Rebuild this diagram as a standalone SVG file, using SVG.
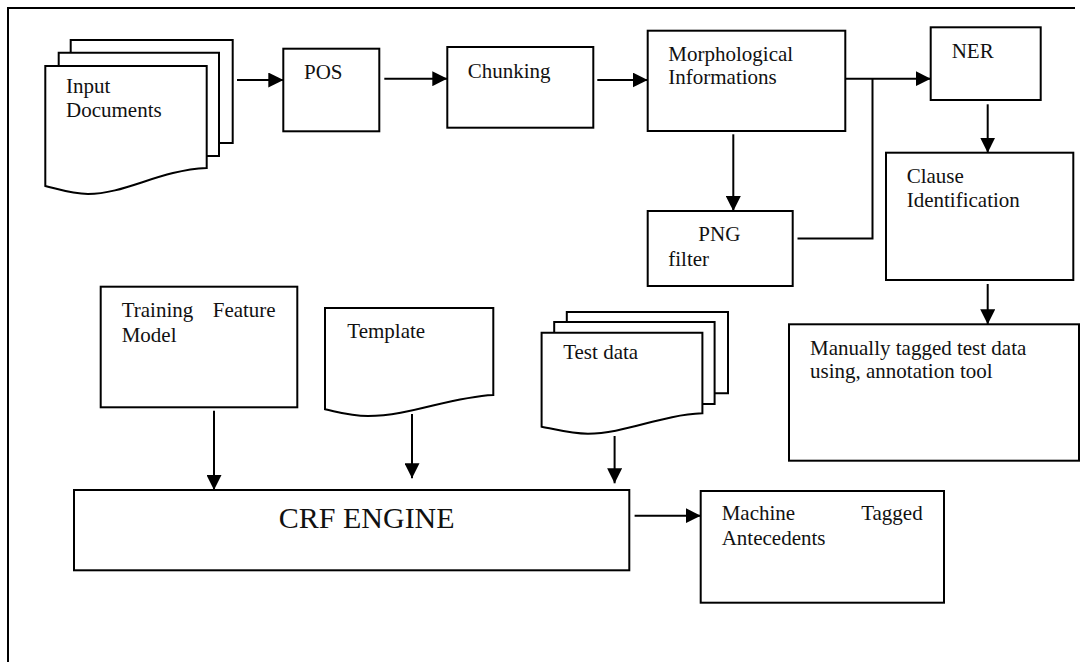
<svg xmlns="http://www.w3.org/2000/svg" width="1084" height="662" viewBox="0 0 1084 662">
  <style>
    .box { fill: #fff; stroke: #000; stroke-width: 2; }
    .edge { fill: none; stroke: #000; stroke-width: 2; }
    .lbl { font-family: "Liberation Serif", "Times New Roman", serif; font-size: 21px; fill: #111; }
    .big { font-family: "Liberation Serif", "Times New Roman", serif; font-size: 30px; fill: #111; }
  </style>
  <defs>
    <marker id="arrow" markerUnits="userSpaceOnUse" markerWidth="15" markerHeight="15" refX="15" refY="7.5" orient="auto">
      <path d="M0,0 L15,7.5 L0,15 z" fill="#000"/>
    </marker>
  </defs>

  <rect width="1084" height="662" fill="#fff"/>

  <!-- frame: top and left edges only -->
  <path class="edge" d="M8,662 L8,8 L1075,8"/>

  <!-- stacked document: input -->
  <g id="input-documents">
    <path class="box" d="M70.7,52.7 L70.7,40 L232.7,40 L232.7,143 L219,143"/>
    <path class="box" d="M58.7,66 L58.7,52.7 L219,52.7 L219,156 L206.7,156"/>
    <path class="box" d="M45.3,66 L206.7,66 L206.7,168 C160,170 125,194 88,194 C72,194 58,189 45.3,186 Z"/>
    <text class="lbl" x="66" y="93">Input</text>
    <text class="lbl" x="66" y="117">Documents</text>
  </g>

  <g id="pos">
    <rect class="box" x="283.3" y="48.7" width="96" height="82.6"/>
    <text class="lbl" x="304" y="79">POS</text>
  </g>

  <g id="chunking">
    <rect class="box" x="447.3" y="47" width="146" height="80.7"/>
    <text class="lbl" x="467.7" y="78">Chunking</text>
  </g>

  <g id="morphological">
    <rect class="box" x="647.7" y="30.7" width="197.6" height="100.3"/>
    <text class="lbl" x="668.3" y="61">Morphological</text>
    <text class="lbl" x="668.3" y="84.3">Informations</text>
  </g>

  <g id="ner">
    <rect class="box" x="930.7" y="27.3" width="110" height="72.7"/>
    <text class="lbl" x="951.7" y="58.3">NER</text>
  </g>

  <g id="png-filter">
    <rect class="box" x="647.7" y="211" width="145" height="75"/>
    <text class="lbl" x="698.3" y="241">PNG</text>
    <text class="lbl" x="668.3" y="266">filter</text>
  </g>

  <g id="clause">
    <rect class="box" x="886" y="152.7" width="187.3" height="127.3"/>
    <text class="lbl" x="906.7" y="182.7">Clause</text>
    <text class="lbl" x="906.7" y="206.7">Identification</text>
  </g>

  <g id="training">
    <rect class="box" x="100.7" y="286.7" width="196.6" height="120.6"/>
    <text class="lbl" x="121.7" y="316.7">Training</text>
    <text class="lbl" x="275.7" y="316.7" text-anchor="end">Feature</text>
    <text class="lbl" x="121.7" y="341.7">Model</text>
  </g>

  <g id="template">
    <path class="box" d="M325,308 L493.3,308 L493.3,395 C450,397 410,416 368,416 C350,416 338,412 325,409.3 Z"/>
    <text class="lbl" x="347.3" y="338.3">Template</text>
  </g>

  <g id="test-data">
    <path class="box" d="M566.8,322 L566.8,312 L728,312 L728,393.3 L714.6,393.3"/>
    <path class="box" d="M554.2,332.7 L554.2,322 L714.6,322 L714.6,404 L702.4,404"/>
    <path class="box" d="M541.6,332.7 L702.4,332.7 L702.4,413.3 C660,415 625,433.7 588,433.7 C570,433.7 555,429 541.6,426.7 Z"/>
    <text class="lbl" x="563.2" y="359.3">Test data</text>
  </g>

  <g id="manual-tagging">
    <rect class="box" x="789" y="324.3" width="290" height="136.4"/>
    <text class="lbl" x="810" y="355">Manually tagged test data</text>
    <text class="lbl" x="810" y="378.3">using, annotation tool</text>
  </g>

  <g id="crf-engine">
    <rect class="box" x="74" y="490" width="555.3" height="80.3"/>
    <text class="big" x="366.7" y="528.3" text-anchor="middle">CRF ENGINE</text>
  </g>

  <g id="machine-tagged">
    <rect class="box" x="700.7" y="491" width="243.3" height="111.7"/>
    <text class="lbl" x="721.7" y="520">Machine</text>
    <text class="lbl" x="922.7" y="520" text-anchor="end">Tagged</text>
    <text class="lbl" x="721.7" y="545">Antecedents</text>
  </g>

  <g id="connectors">
    <path class="edge" marker-end="url(#arrow)" d="M237,80 L283.3,80"/>
    <path class="edge" marker-end="url(#arrow)" d="M384.3,78.7 L447.3,78.7"/>
    <path class="edge" marker-end="url(#arrow)" d="M597.3,80 L647.7,80"/>
    <path class="edge" marker-end="url(#arrow)" d="M845.3,78.7 L930.7,78.7"/>
    <path class="edge" d="M797.5,238.5 L872.5,238.5 L872.5,78.7"/>
    <path class="edge" marker-end="url(#arrow)" d="M733.3,134.3 L733.3,211"/>
    <path class="edge" marker-end="url(#arrow)" d="M987.7,104.3 L987.7,152.7"/>
    <path class="edge" marker-end="url(#arrow)" d="M987.7,284 L987.7,324.3"/>
    <path class="edge" marker-end="url(#arrow)" d="M214,410.7 L214,490"/>
    <path class="edge" marker-end="url(#arrow)" d="M412,414 L412,478.3"/>
    <path class="edge" marker-end="url(#arrow)" d="M614.6,436 L614.6,483.3"/>
    <path class="edge" marker-end="url(#arrow)" d="M634.6,515.7 L700.7,515.7"/>
  </g>
</svg>
